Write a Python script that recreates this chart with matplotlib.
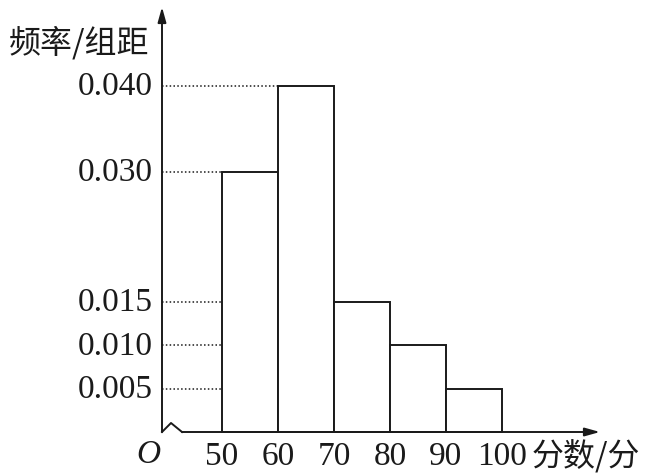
import matplotlib
matplotlib.use("Agg")
import matplotlib.pyplot as plt

# histogram data
bin_edges = [50, 60, 70, 80, 90, 100]
heights = [0.030, 0.040, 0.015, 0.010, 0.005]
ytick_vals = [0.005, 0.010, 0.015, 0.030, 0.040]
ytick_labels = ["0.005", "0.010", "0.015", "0.030", "0.040"]
xtick_labels = ["50", "60", "70", "80", "90", "100"]

W, H = 650, 477
fig = plt.figure(figsize=(W / 100, H / 100), dpi=100)
ax = fig.add_axes([0, 0, 1, 1])
ax.axis("off")

# map pixels of the original figure into data coords
px_per_x = 5.6
px_per_y = 8660.0
x0_px, y0_px = 222, 433
ax.set_xlim(50 - x0_px / px_per_x, 50 + (W - x0_px) / px_per_x)
ax.set_ylim(-(H - y0_px) / px_per_y, y0_px / px_per_y)

def px2x(p):
    return 50 + (p - x0_px) / px_per_x

def px2y(p):
    return (y0_px - p) / px_per_y

lc = "#1a1a1a"
serif = ["Liberation Serif", "DejaVu Serif"]
cjk = ["Noto Sans CJK SC", "DejaVu Sans"]

yaxis_x = px2x(162)

# bars
for i, h in enumerate(heights):
    ax.bar(bin_edges[i], h, width=bin_edges[i + 1] - bin_edges[i], align="edge",
           facecolor="white", edgecolor=lc, linewidth=1.4, zorder=2)

# dotted guides from the y axis to the bar
for v, lab in zip(ytick_vals, ytick_labels):
    idx = heights.index(v)
    ax.plot([yaxis_x, bin_edges[idx]], [v, v], color=lc, linestyle=(0, (1, 1.5)),
            linewidth=1.1, zorder=1)
    ax.text(px2x(153), v, lab, ha="right", va="center", fontsize=24,
            family=serif, color=lc)

# axes with arrows
ax.annotate("", xy=(yaxis_x, px2y(8)), xytext=(yaxis_x, 0),
            arrowprops=dict(arrowstyle="-|>,head_length=0.9,head_width=0.25",
                            color=lc, lw=1.4, shrinkA=0, shrinkB=0))
brk_x = [yaxis_x, px2x(171), px2x(182)]
brk_y = [0, px2y(424), 0]
ax.plot(brk_x, brk_y, color=lc, linewidth=1.4)
ax.annotate("", xy=(px2x(600), 0), xytext=(px2x(182), 0),
            arrowprops=dict(arrowstyle="-|>,head_length=0.9,head_width=0.25",
                            color=lc, lw=1.4, shrinkA=0, shrinkB=0))

# tick labels on x
for e, lab in zip(bin_edges, xtick_labels):
    ax.text(e, px2y(457), lab, ha="center", va="center", fontsize=24,
            family=serif, color=lc)

ax.text(px2x(148), px2y(455), "O", ha="center", va="center", fontsize=24,
        family=serif, style="italic", color=lc)
ax.text(px2x(79), px2y(43), "频率/组距", ha="center", va="center",
        fontsize=23, family=cjk, color=lc)
ax.text(px2x(586), px2y(457), "分数/分", ha="center", va="center",
        fontsize=23, family=cjk, color=lc)

fig.savefig("out.png", dpi=100, facecolor="white")
